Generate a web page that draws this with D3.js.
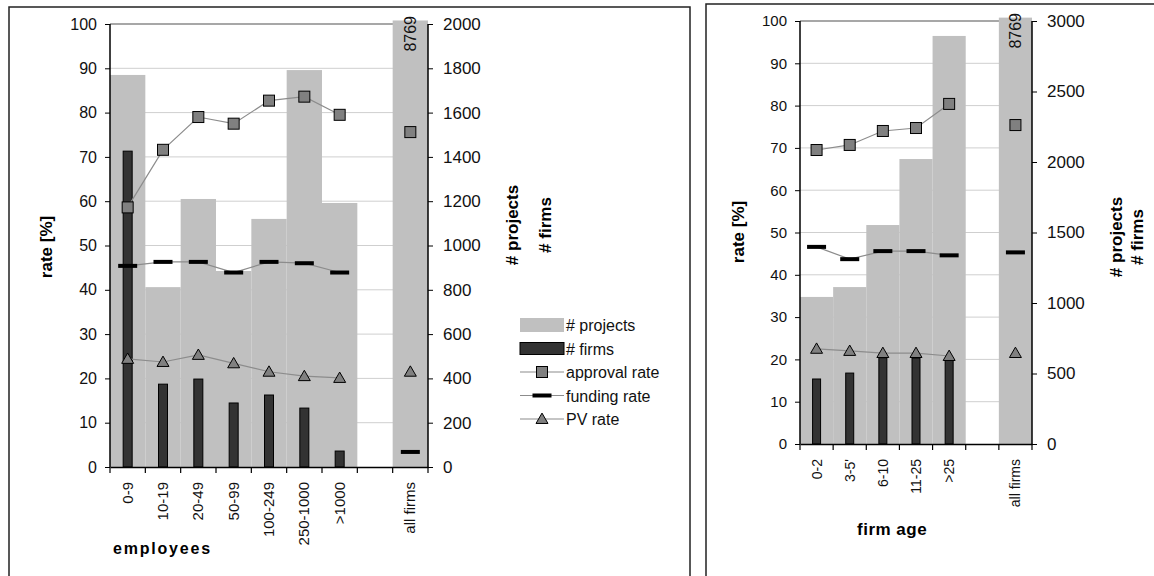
<!DOCTYPE html>
<html>
<head>
<meta charset="utf-8">
<script src="https://cdn.jsdelivr.net/npm/d3@7/dist/d3.min.js"></script>
<style>
  body { margin: 0; background: #fff; }
  svg { display: block; font-family: "Liberation Sans", Arial, sans-serif; }
</style>
</head>
<body>
<div id="chart"></div>
<script>
// ---- data: left panel (employees) ----
var sizeCats = ["0-9", "10-19", "20-49", "50-99", "100-249", "250-1000", ">1000", "", "all firms"];
var sizeProjects = [1770, 812, 1210, 885, 1120, 1792, 1192, 0, 8769];
var sizeFirms = [1426, 374, 397, 289, 325, 266, 72, null, null];
var sizeApproval = [58.6, 71.6, 79.0, 77.5, 82.7, 83.6, 79.5, null, 75.6];
var sizeFunding = [45.4, 46.3, 46.3, 43.9, 46.3, 46.0, 43.9, null, 3.4];
var sizePV = [24.4, 23.7, 25.3, 23.4, 21.5, 20.5, 20.1, null, 21.5];

// ---- data: right panel (firm age) ----
var ageCats = ["0-2", "3-5'", "6-10", "11-25", ">25", "", "all firms"];
var ageProjects = [1043, 1113, 1553, 2021, 2894, 0, 8769];
var ageFirms = [461, 503, 612, 610, 600, null, null];
var ageApproval = [69.5, 70.7, 74.0, 74.7, 80.4, null, 75.4];
var ageFunding = [46.6, 43.7, 45.6, 45.6, 44.6, null, 45.3];
var agePV = [22.5, 22.0, 21.5, 21.5, 20.8, null, 21.5];

var rateTicks = [0, 10, 20, 30, 40, 50, 60, 70, 80, 90, 100];
var sizeCountTicks = [0, 200, 400, 600, 800, 1000, 1200, 1400, 1600, 1800, 2000];
var ageCountTicks = [0, 500, 1000, 1500, 2000, 2500, 3000];

var legendItems = ["# projects", "# firms", "approval rate", "funding rate", "PV rate"];

var svg = d3.select("#chart").append("svg")
    .attr("width", 1154)
    .attr("height", 576);

function drawPanel(p) {
    var g = svg.append("g");

    // frame
    g.append("rect")
        .attr("x", p.box[0]).attr("y", p.box[1])
        .attr("width", p.box[2]).attr("height", p.box[3])
        .attr("fill", "none").attr("stroke", "#222").attr("stroke-width", 1.5);

    var x = d3.scaleBand().domain(p.cats).range([p.x0, p.x1]).padding(0);
    var yL = d3.scaleLinear().domain([0, 100]).range([p.yBot, p.yTop]);
    var yR = d3.scaleLinear().domain([0, p.maxR]).range([p.yBot, p.yTop]);
    var cx = function(i) { return x(p.cats[i]) + x.bandwidth() / 2; };

    // gridlines
    g.selectAll(".grid").data(rateTicks.slice(1)).enter().append("line")
        .attr("x1", p.x0).attr("x2", p.x1)
        .attr("y1", function(d) { return yL(d); })
        .attr("y2", function(d) { return yL(d); })
        .attr("stroke", function(d) { return d === 100 ? "#8a8a8a" : "#cfcfcf"; })
        .attr("stroke-width", function(d) { return d === 100 ? 1.5 : 1; });

    // projects bars (clipped just above the top like excel)
    g.selectAll(".proj").data(p.projects).enter().append("rect")
        .attr("x", function(d, i) { return x(p.cats[i]); })
        .attr("width", x.bandwidth())
        .attr("y", function(d) { return yR(Math.min(d, p.maxR * 1.008)); })
        .attr("height", function(d) { return p.yBot - yR(Math.min(d, p.maxR * 1.008)); })
        .attr("fill", "#c0c0c0");

    // label for the off-scale bar
    p.projects.forEach(function(d, i) {
        if (d > p.maxR) {
            g.append("text")
                .attr("transform", "translate(" + (cx(i) + 6) + "," + (p.yTop - 8) + ") rotate(-90)")
                .attr("text-anchor", "end")
                .attr("font-size", 16)
                .attr("fill", "#111")
                .text(d);
        }
    });

    // firms bars
    g.selectAll(".firm").data(p.firms).enter()
        .filter(function(d) { return d != null; })
        .append("rect")
        .attr("x", function(d, i) { return cx(p.firms.indexOf(d)) - p.firmW / 2; })
        .attr("width", p.firmW)
        .attr("y", function(d) { return yR(d); })
        .attr("height", function(d) { return p.yBot - yR(d); })
        .attr("fill", "#333")
        .attr("stroke", "#000").attr("stroke-width", 1);

    var nConn = p.cats.indexOf("");
    var line = d3.line()
        .x(function(d) { return cx(d.i); })
        .y(function(d) { return yL(d.v); });
    function pts(arr) {
        return arr.map(function(v, i) { return { v: v, i: i }; })
            .filter(function(d) { return d.v != null; });
    }
    function connected(arr) {
        return pts(arr).filter(function(d) { return d.i < nConn; });
    }

    [p.approval, p.funding, p.pv].forEach(function(arr) {
        g.append("path").datum(connected(arr))
            .attr("d", line)
            .attr("fill", "none")
            .attr("stroke", "#8c8c8c").attr("stroke-width", 1.2);
    });

    // funding dashes
    g.selectAll(".fund").data(pts(p.funding)).enter().append("rect")
        .attr("x", function(d) { return cx(d.i) - 9.5; })
        .attr("y", function(d) { return yL(d.v) - 2; })
        .attr("width", 19).attr("height", 4)
        .attr("fill", "#000");

    // PV triangles
    g.selectAll(".pv").data(pts(p.pv)).enter().append("path")
        .attr("d", d3.symbol().type(d3.symbolTriangle).size(62))
        .attr("transform", function(d) { return "translate(" + cx(d.i) + "," + (yL(d.v) + 1) + ")"; })
        .attr("fill", "#808080").attr("stroke", "#000").attr("stroke-width", 1);

    // approval squares
    g.selectAll(".appr").data(pts(p.approval)).enter().append("rect")
        .attr("x", function(d) { return cx(d.i) - 5.5; })
        .attr("y", function(d) { return yL(d.v) - 5.5; })
        .attr("width", 11).attr("height", 11)
        .attr("fill", "#808080").attr("stroke", "#000").attr("stroke-width", 1);

    // axes
    var axL = d3.axisLeft(yL).tickValues(rateTicks).tickSize(5).tickPadding(p.padL).tickFormat(d3.format("d"));
    var axR = d3.axisRight(yR).tickValues(p.countTicks).tickSize(5).tickPadding(p.padR).tickFormat(d3.format("d"));
    var axB = d3.axisBottom(x).tickValues([]).tickSizeOuter(0);

    var gL = g.append("g").attr("transform", "translate(" + p.x0 + ",0)").call(axL);
    gL.selectAll("text").attr("font-size", p.fsL).attr("fill", "#111");
    var gR = g.append("g").attr("transform", "translate(" + p.x1 + ",0)").call(axR);
    gR.selectAll("text").attr("font-size", p.fsR).attr("fill", "#111");
    var gB = g.append("g").attr("transform", "translate(0," + p.yBot + ")").call(axB);
    [gL, gR, gB].forEach(function(a) {
        a.select(".domain").attr("stroke", "#000").attr("stroke-width", 1.5);
        a.selectAll(".tick line").attr("stroke", "#000");
    });
    gL.select(".domain").attr("d", "M0," + p.yTop + "V" + p.yBot);
    gR.select(".domain").attr("d", "M0," + p.yTop + "V" + p.yBot);

    // category tick marks between bands
    var edges = p.cats.map(function(c) { return x(c); }).concat([p.x1]);
    g.selectAll(".xt").data(edges).enter().append("line")
        .attr("x1", function(d) { return d; }).attr("x2", function(d) { return d; })
        .attr("y1", p.yBot).attr("y2", p.yBot + 6)
        .attr("stroke", "#000").attr("stroke-width", 1.2);

    // rotated category labels
    g.selectAll(".xl").data(p.cats).enter().append("text")
        .attr("transform", function(d, i) { return "translate(" + (cx(i) + 5) + "," + (p.yBot + 15) + ") rotate(-90)"; })
        .attr("text-anchor", "end")
        .attr("font-size", p.fsX)
        .attr("fill", "#111")
        .text(function(d) { return d; });

    // axis titles
    g.append("text")
        .attr("transform", "translate(" + p.rateX + "," + p.rateY + ") rotate(-90)")
        .attr("text-anchor", "middle").attr("font-weight", "bold").attr("font-size", 17)
        .text("rate [%]");
    g.append("text")
        .attr("transform", "translate(" + p.projX + "," + p.cntY + ") rotate(-90)")
        .attr("text-anchor", "middle").attr("font-weight", "bold").attr("font-size", 17)
        .text("# projects");
    g.append("text")
        .attr("transform", "translate(" + p.firmX + "," + p.cntY + ") rotate(-90)")
        .attr("text-anchor", "middle").attr("font-weight", "bold").attr("font-size", 17)
        .text("# firms");
    g.append("text")
        .attr("x", p.titleX).attr("y", p.titleY)
        .attr("font-weight", "bold").attr("font-size", p.titleFs)
        .attr("letter-spacing", p.titleLs)
        .text(p.title);
}

drawPanel({
    box: [9, 7, 681, 600],
    cats: sizeCats, projects: sizeProjects, firms: sizeFirms,
    approval: sizeApproval, funding: sizeFunding, pv: sizePV,
    maxR: 2000, countTicks: sizeCountTicks,
    x0: 110, x1: 428, yTop: 24, yBot: 467, firmW: 9,
    padL: 8, padR: 10, fsL: 16, fsR: 17, fsX: 15,
    rateX: 52, rateY: 247, projX: 518, firmX: 551, cntY: 225,
    title: "employees", titleX: 113, titleY: 554, titleFs: 16, titleLs: 1.8
});

drawPanel({
    box: [706, 4, 460, 600],
    cats: ageCats, projects: ageProjects, firms: ageFirms,
    approval: ageApproval, funding: ageFunding, pv: agePV,
    maxR: 3000, countTicks: ageCountTicks,
    x0: 800, x1: 1032, yTop: 21, yBot: 444, firmW: 8,
    padL: 8, padR: 10, fsL: 15, fsR: 17, fsX: 14,
    rateX: 744, rateY: 232, projX: 1122, firmX: 1143, cntY: 237,
    title: "firm age", titleX: 857, titleY: 535, titleFs: 17, titleLs: 0.5
});

// legend (left panel)
var lg = svg.append("g");
var lx = 520, lw = 44, ly0 = 325, lstep = 23.5;
legendItems.forEach(function(name, i) {
    var cy = ly0 + i * lstep;
    if (i === 0) {
        lg.append("rect").attr("x", lx).attr("y", cy - 7).attr("width", lw).attr("height", 14).attr("fill", "#c0c0c0");
    } else if (i === 1) {
        lg.append("rect").attr("x", lx).attr("y", cy - 6).attr("width", lw).attr("height", 12)
            .attr("fill", "#333").attr("stroke", "#000");
    } else {
        lg.append("line").attr("x1", lx).attr("x2", lx + lw).attr("y1", cy).attr("y2", cy)
            .attr("stroke", "#8c8c8c").attr("stroke-width", 1.2);
        if (i === 2) {
            lg.append("rect").attr("x", lx + lw / 2 - 5.5).attr("y", cy - 5.5).attr("width", 11).attr("height", 11)
                .attr("fill", "#808080").attr("stroke", "#000");
        } else if (i === 3) {
            lg.append("rect").attr("x", lx + lw / 2 - 9.5).attr("y", cy - 2).attr("width", 19).attr("height", 4)
                .attr("fill", "#000");
        } else {
            lg.append("path").attr("d", d3.symbol().type(d3.symbolTriangle).size(62))
                .attr("transform", "translate(" + (lx + lw / 2) + "," + (cy + 1) + ")")
                .attr("fill", "#808080").attr("stroke", "#000");
        }
    }
    lg.append("text").attr("x", lx + lw + 2).attr("y", cy + 6)
        .attr("font-size", 16).attr("fill", "#111").text(name);
});
</script>
</body>
</html>
